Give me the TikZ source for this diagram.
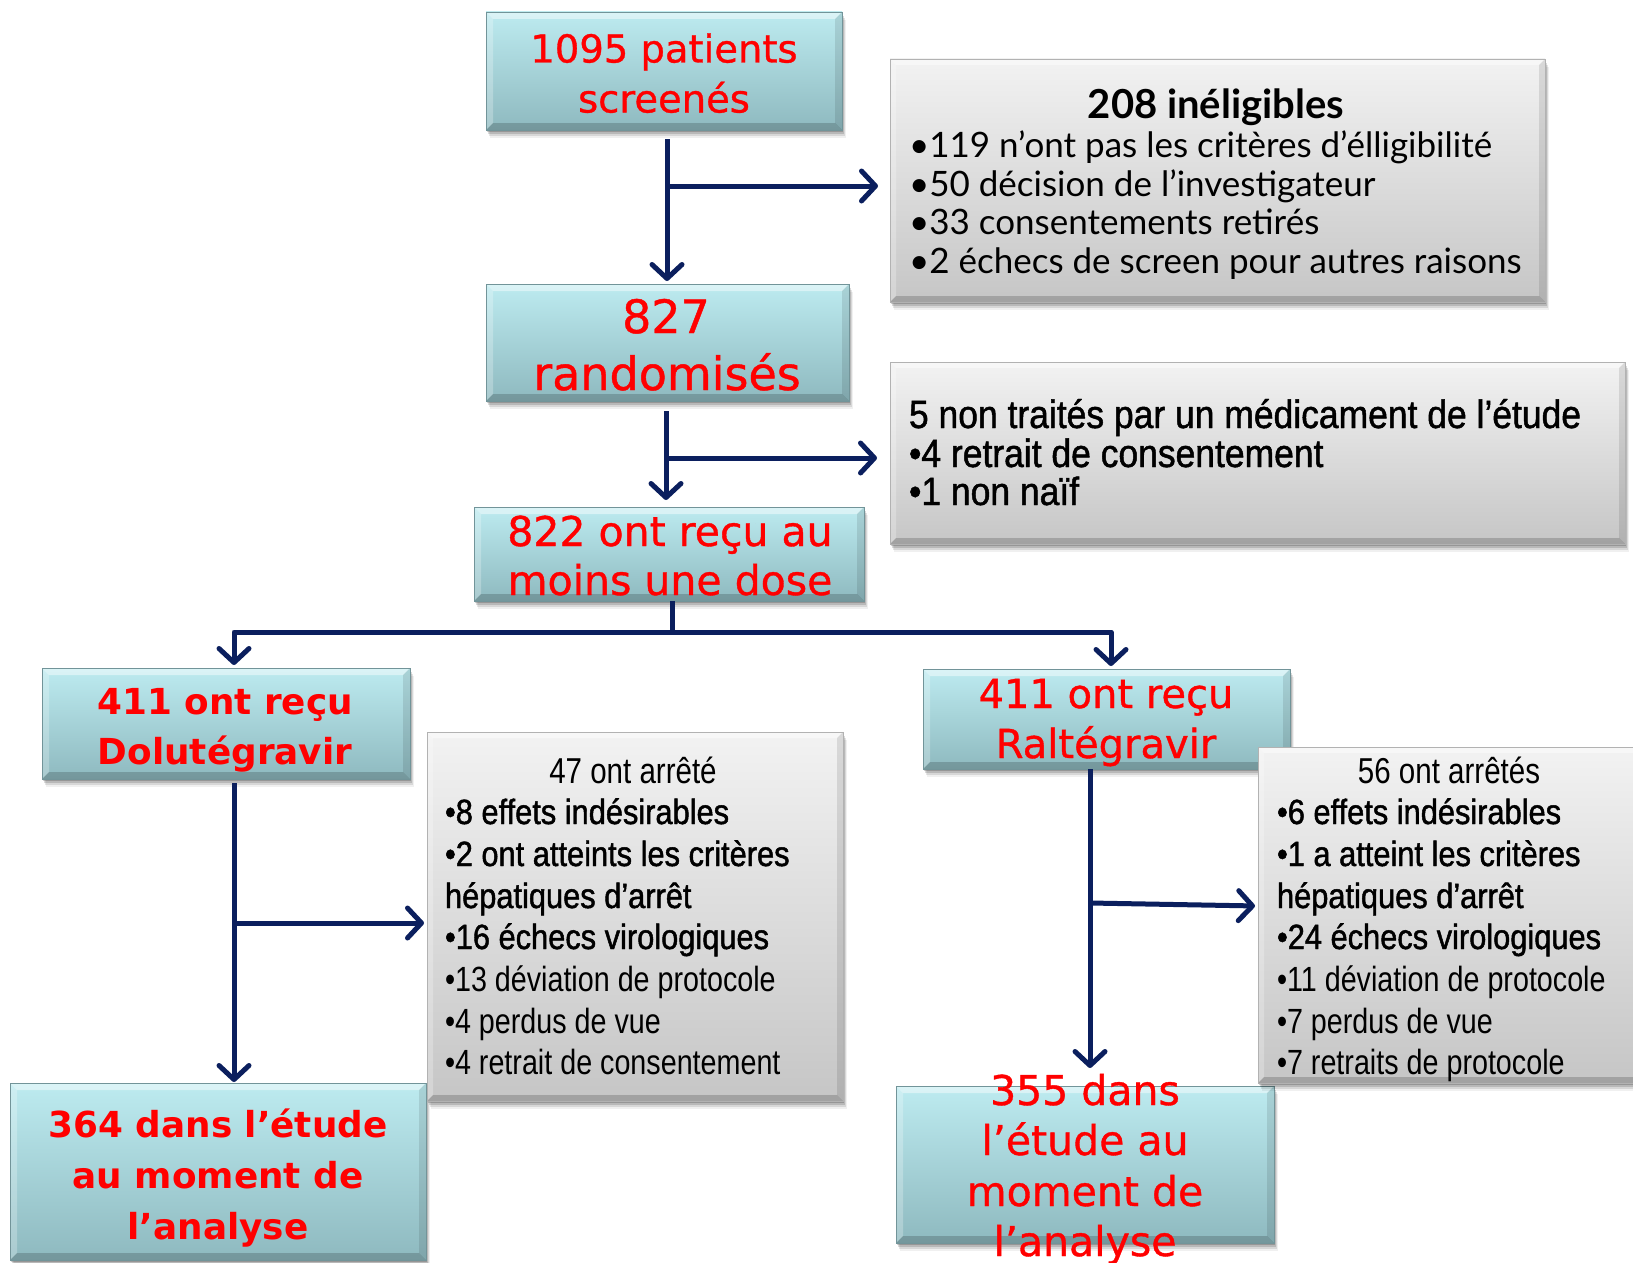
\documentclass[tikz,border=0pt]{standalone}
\usepackage{fontspec}
\setmainfont{DejaVu Sans}
\newfontfamily\dvs{DejaVu Sans}
\newfontfamily\dvsr[FakeBold=0.9]{DejaVu Sans}
\newfontfamily\latof{Lato}
\newfontfamily\narf[FakeStretch=0.82]{Liberation Sans}
\newfontfamily\narbf[FakeStretch=0.88,FakeBold=1.3]{Liberation Sans}
\newfontfamily\midf[FakeStretch=0.9,FakeBold=1.2]{Liberation Sans}
\usetikzlibrary{arrows.meta,shadows}
\definecolor{arrnavy}{HTML}{0B1F5E}
\definecolor{tealtop}{HTML}{BDEBF0}
\definecolor{tealbot}{HTML}{8EB9BF}
\definecolor{redtxt}{HTML}{FF0000}
\tikzset{
  bevel/.style={path picture={
    \path (path picture bounding box.north west) coordinate (bvNW)
          (path picture bounding box.north east) coordinate (bvNE)
          (path picture bounding box.south east) coordinate (bvSE)
          (path picture bounding box.south west) coordinate (bvSW);
    \fill[white,opacity=0.45] (bvNW) -- (bvNE) -- ([shift={(-#1,-#1)}]bvNE) -- ([shift={(#1,-#1)}]bvNW) -- cycle;
    \fill[white,opacity=0.25] (bvNW) -- ([shift={(#1,-#1)}]bvNW) -- ([shift={(#1,#1)}]bvSW) -- (bvSW) -- cycle;
    \fill[black,opacity=0.18] (bvSW) -- (bvSE) -- ([shift={(-#1,#1)}]bvSE) -- ([shift={(#1,#1)}]bvSW) -- cycle;
    \fill[black,opacity=0.10] (bvNE) -- (bvSE) -- ([shift={(-#1,#1)}]bvSE) -- ([shift={(-#1,-#1)}]bvNE) -- cycle;
  }},
  boxbase/.style={inner sep=0pt, outer sep=0pt, line width=0.7pt,
    drop shadow={shadow xshift=1pt, shadow yshift=-2pt, opacity=0.18, fill=black},
    drop shadow={shadow xshift=2pt, shadow yshift=-4pt, opacity=0.14, fill=black},
    drop shadow={shadow xshift=3pt, shadow yshift=-6pt, opacity=0.10, fill=black},
    drop shadow={shadow xshift=4pt, shadow yshift=-8pt, opacity=0.06, fill=black}},
  tealbox/.style={boxbase, draw=tealbot!80!black, top color=tealtop, bottom color=tealbot, bevel=7pt},
  graybox/.style={boxbase, draw=gray!60, top color=gray!10, middle color=white, bottom color=gray!45, bevel=6pt},
  txt/.style={inner sep=0pt, outer sep=0pt, anchor=base},
  ltxt/.style={inner sep=0pt, outer sep=0pt, anchor=base west},
  rA/.style={txt, text=redtxt, font=\dvsr\fontsize{38.5}{46}\selectfont},
  rB/.style={txt, text=redtxt, font=\dvsr\fontsize{46}{55}\selectfont},
  rC/.style={txt, text=redtxt, font=\dvsr\fontsize{41}{46}\selectfont},
  rD/.style={txt, text=redtxt, font=\dvs\bfseries\fontsize{35.8}{42}\selectfont},
  rE/.style={txt, text=redtxt, font=\dvsr\fontsize{40}{46}\selectfont},
  rF/.style={txt, text=redtxt, font=\dvsr\fontsize{41}{48}\selectfont},
  gtitle/.style={txt, font=\latof\bfseries\fontsize{40}{42}\selectfont},
  gitem/.style={ltxt, font=\latof\fontsize{35}{40}\selectfont},
  mitem/.style={ltxt, font=\midf\fontsize{39.4}{40}\selectfont},
  ntitle/.style={txt, font=\narf\fontsize{36}{42}\selectfont},
  nitem/.style={ltxt, font=\narf\fontsize{35}{42}\selectfont},
  nbitem/.style={ltxt, font=\narbf\fontsize{35}{42}\selectfont},
  arr/.style={draw=arrnavy, line width=5pt, line join=round,
    -{Straight Barb[length=14pt,width=30pt,round]}},
  arrboth/.style={draw=arrnavy, line width=5pt, line join=round,
    {Straight Barb[length=14pt,width=30pt,round]}-{Straight Barb[length=14pt,width=30pt,round]}},
  plainln/.style={draw=arrnavy, line width=5pt},
}
\begin{document}
\begin{tikzpicture}[x=1pt,y=-1pt]
\useasboundingbox (0,0) rectangle (1633,1263);
\clip (0,0) rectangle (1633,1263);
\fill[white] (0,0) rectangle (1633,1263);

% teal boxes
\node[tealbox, minimum width=356pt, minimum height=118pt] (b1) at (664,71) {};
\node[tealbox, minimum width=363pt, minimum height=117pt] (b827) at (667.5,342.5) {};
\node[tealbox, minimum width=390pt, minimum height=94pt] (b822) at (669,554) {};
\node[tealbox, minimum width=368pt, minimum height=111pt] (bdolu) at (226,723.5) {};
\node[tealbox, minimum width=367pt, minimum height=100pt] (bralt) at (1106.5,719) {};
\node[tealbox, minimum width=416pt, minimum height=177pt] (b364) at (218,1171.5) {};
\node[tealbox, minimum width=378pt, minimum height=157pt] (b355) at (1085,1164.5) {};

% gray boxes
\node[graybox, minimum width=655pt, minimum height=243pt] (g208) at (1217.5,180.5) {};
\node[graybox, minimum width=735pt, minimum height=182pt] (g5) at (1257.5,453) {};
\node[graybox, minimum width=416pt, minimum height=369pt] (g47) at (635,916.5) {};
\node[graybox, minimum width=392pt, minimum height=336pt] (g56) at (1454,915) {};

% red texts
\node[rA] (t1a) at (664,62.5) {1095 patients};
\node[rA] (t1b) at (664,112.5) {screenés};
\node[rB] (t2a) at (666,333) {827};
\node[rB] (t2b) at (667,390) {randomisés};
\node[rC] (t3a) at (670,546) {822 ont reçu au};
\node[rC] (t3b) at (670,595) {moins une dose};
\node[rD] (t4a) at (225,714) {411 ont reçu};
\node[rD] (t4b) at (225,764) {Dolutégravir};
\node[rE] (t5a) at (1106,708) {411 ont reçu};
\node[rE] (t5b) at (1106,758) {Raltégravir};
\node[rD] (t6a) at (218,1137) {364 dans l’étude};
\node[rD] (t6b) at (218,1188) {au moment de};
\node[rD] (t6c) at (218,1239) {l’analyse};
\node[rF] (t7a) at (1085,1105) {355 dans};
\node[rF] (t7b) at (1085,1155) {l’étude au};
\node[rF] (t7c) at (1085,1206) {moment de};
\node[rF] (t7d) at (1085,1256) {l’analyse};

% 208 box texts
\node[gtitle] (u0) at (1216,118) {208 inéligibles};
\node[gitem] (u1) at (909,157) {•119 n’ont pas les critères d’élligibilité};
\node[gitem] (u2) at (909,196) {•50 décision de l’investigateur};
\node[gitem] (u3) at (909,234) {•33 consentements retirés};
\node[gitem] (u4) at (909,273) {•2 échecs de screen pour autres raisons};

% 5 box texts
\node[mitem] (v1) at (909,428) {5 non traités par un médicament de l’étude};
\node[mitem] (v2) at (909,467) {•4 retrait de consentement};
\node[mitem] (v3) at (909,505) {•1 non naïf};

% 47 box texts
\node[ntitle] (w0) at (633,783) {47 ont arrêté};
\node[nbitem] (w1) at (445,824) {•8 effets indésirables};
\node[nbitem] (w2) at (445,866) {•2 ont atteints les critères};
\node[nbitem] (w3) at (445,908) {hépatiques d’arrêt};
\node[nbitem] (w4) at (445,949) {•16 échecs virologiques};
\node[nitem] (w5) at (445,991) {•13 déviation de protocole};
\node[nitem] (w6) at (445,1033) {•4 perdus de vue};
\node[nitem] (w7) at (445,1074) {•4 retrait de consentement};

% 56 box texts
\node[ntitle] (x0) at (1449,783) {56 ont arrêtés};
\node[nbitem] (x1) at (1277,824) {•6 effets indésirables};
\node[nbitem] (x2) at (1277,866) {•1 a atteint les critères};
\node[nbitem] (x3) at (1277,908) {hépatiques d’arrêt};
\node[nbitem] (x4) at (1277,949) {•24 échecs virologiques};
\node[nitem] (x5) at (1277,991) {•11 déviation de protocole};
\node[nitem] (x6) at (1277,1033) {•7 perdus de vue};
\node[nitem] (x7) at (1277,1074) {•7 retraits de protocole};

% connectors
\coordinate (j1) at (667,186);
\draw[arr, shorten <=9pt, shorten >=3pt] (b1.south -| j1) -- (b827.north -| j1);
\draw[arr, shorten >=12pt] (j1) -- (g208.west |- j1);

\coordinate (j2) at (666,458);
\draw[arr, shorten <=10pt, shorten >=7pt] (b827.south -| j2) -- (b822.north -| j2);
\draw[arr, shorten >=13pt] (j2) -- (g5.west |- j2);

\coordinate (j3) at (672,632);
\coordinate (jL) at (234,632);
\coordinate (jR) at (1111,632);
\draw[plainln] (b822.south -| j3) -- (j3);
\draw[arrboth, shorten <=3pt, shorten >=3pt] (bdolu.north -| jL) -- (jL) -- (jR) -- (bralt.north -| jR);

\coordinate (j4) at (234,923);
\draw[arr, shorten <=4pt, shorten >=1pt] (bdolu.south -| j4) -- (b364.north -| j4);
\draw[arr, shorten >=3pt] (j4) -- (g47.west |- j4);

\coordinate (j5) at (1090,903);
\coordinate (j5e) at (1258,906);
\draw[arr, shorten >=18pt] (bralt.south -| j5) -- (b355.north -| j5);
\draw[arr, shorten >=3pt] (j5) -- (j5e);
\end{tikzpicture}
\end{document}
